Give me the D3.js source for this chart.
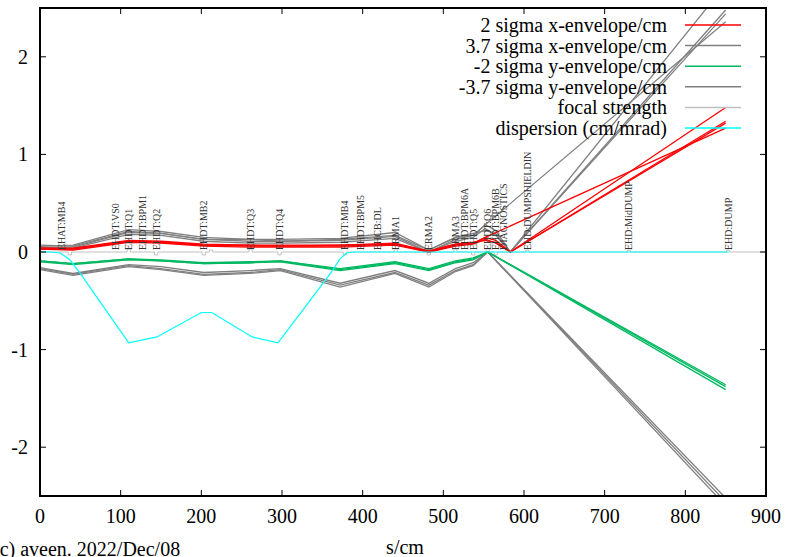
<!DOCTYPE html>
<html lang="en">
<head>
<meta charset="utf-8">
<title>envelope</title>
<style>
  body { margin: 0; background: #fff; }
  svg text { font-family: "Liberation Serif", "Times New Roman", serif; }
</style>
</head>
<body>
<div id="chart"></div>
<script src="https://cdn.jsdelivr.net/npm/d3@7"></script>
<script>
// --- data ---
var xTicks = [0, 100, 200, 300, 400, 500, 600, 700, 800, 900];
var yTicks = [-2, -1, 0, 1, 2];

// 2 sigma x-envelope (several runs)
var redTraces = [
  [[0,.03],[41,.03],[110,.11],[150,.10],[203,.07],[260,.06],[298,.06],[372,.06],[440,.08],[482,0],[515,.07],[537,.09],[552,.15],[565,.12],[583,0],[850,1.34]],
  [[0,.04],[41,.04],[110,.12],[150,.11],[203,.08],[260,.07],[298,.07],[372,.07],[440,.09],[482,.01],[515,.08],[537,.10],[552,.12],[565,.10],[583,0],[850,1.32]],
  [[0,.03],[41,.02],[110,.10],[150,.09],[203,.06],[260,.05],[298,.05],[372,.05],[440,.07],[482,0],[515,.06],[537,.08],[552,.13],[565,.09],[583,0],[850,1.48]],
  [[0,.04],[41,.03],[110,.11],[150,.10],[203,.07],[260,.07],[298,.06],[372,.07],[440,.08],[482,.01],[515,.08],[537,.09],[552,.15],[850,1.27]]
];
// 3.7 sigma x-envelope
var grayXTraces = [
  [[0,.05],[41,.05],[110,.20],[150,.19],[203,.13],[260,.11],[298,.11],[372,.12],[440,.16],[482,0],[515,.13],[537,.17],[552,.28],[565,.22],[583,0],[850,2.48]],
  [[0,.06],[41,.07],[110,.23],[150,.21],[203,.15],[260,.13],[298,.13],[372,.14],[440,.20],[482,.02],[515,.15],[537,.19],[552,.22],[565,.19],[583,0],[850,2.44]],
  [[0,.05],[41,.04],[110,.18],[150,.17],[203,.11],[260,.09],[298,.09],[372,.10],[440,.14],[482,0],[515,.11],[537,.15],[552,.24],[565,.17],[583,0],[850,2.74]],
  [[0,.07],[41,.06],[110,.21],[150,.19],[203,.13],[260,.13],[298,.11],[372,.13],[440,.17],[482,.02],[515,.15],[537,.17],[552,.28],[850,2.36]]
];
// -2 sigma y-envelope
var greenTraces = [
  [[0,-.09],[41,-.12],[110,-.07],[150,-.08],[203,-.11],[260,-.10],[298,-.09],[372,-.17],[440,-.10],[482,-.17],[515,-.09],[537,-.06],[555,0],[850,-1.36]],
  [[0,-.09],[41,-.12],[110,-.07],[150,-.09],[203,-.12],[260,-.11],[298,-.09],[372,-.18],[440,-.11],[482,-.18],[515,-.10],[537,-.07],[555,0],[850,-1.38]],
  [[0,-.10],[41,-.13],[110,-.08],[150,-.09],[203,-.12],[260,-.11],[298,-.10],[372,-.19],[440,-.12],[482,-.19],[515,-.11],[537,-.08],[555,0],[850,-1.41]]
];
// -3.7 sigma y-envelope
var grayYTraces = [
  [[0,-.16],[41,-.22],[110,-.13],[150,-.15],[203,-.21],[260,-.19],[298,-.17],[372,-.32],[440,-.19],[482,-.32],[515,-.17],[537,-.11],[555,0],[850,-2.52]],
  [[0,-.17],[41,-.23],[110,-.14],[150,-.17],[203,-.23],[260,-.21],[298,-.18],[372,-.34],[440,-.21],[482,-.34],[515,-.19],[537,-.13],[555,0],[850,-2.56]],
  [[0,-.18],[41,-.24],[110,-.15],[150,-.18],[203,-.24],[260,-.22],[298,-.19],[372,-.36],[440,-.22],[482,-.36],[515,-.20],[537,-.14],[555,0],[850,-2.60]]
];
// dispersion (cm/mrad)
var dispersion = [[0,0],[12,0],[25,-.01],[37,-.08],[50,-.22],[71,-.47],[110,-.93],[145,-.87],[200,-.62],[213,-.62],[263,-.87],[295,-.93],[330,-.55],[360,-.22],[372,-.07],[380,-.01],[390,0],[854,0]];
// focal strength kicks at elements
var focalS = [37, 110, 144, 203, 212, 261, 297, 378, 441, 482, 515, 537, 555, 565, 604, 730, 853];
var focalK = [-.03, .03, -.03, -.03, .02, .03, -.03, -.03, .03, -.03, .03, -.03, .03, -.03, .02, .02, .02];
// element names and positions
var elemNames = ["EHAT:MB4", "EHDT:VS0", "EHDT:Q1", "EHDT:BPM1", "EHDT:Q2", "EHDT:MB2", "EHDT:Q3", "EHDT:Q4", "EHDT:MB4", "EHDT:BPM5", "EHCB:DL", "ERMA1", "ERMA2", "ERMA3", "EHDT:BPM6A", "EHDT:Q5", "EHDT:Q6", "EHDT:BPM6B", "DIAGNOSTICS", "EHD:DUMPSHIELDIN", "EHD:MidDUMP", "EHD:DUMP"];
var elemS = [27, 94, 110, 127, 144, 203, 261, 297, 378, 397, 418, 441, 482, 515, 526, 537, 555, 565, 575, 604, 730, 853];

var legendNames = ["2 sigma x-envelope/cm", "3.7 sigma x-envelope/cm", "-2 sigma y-envelope/cm", "-3.7 sigma y-envelope/cm", "focal strength", "dispersion (cm/mrad)"];
var legendColors = ["#ff0000", "#808080", "#00b860", "#808080", "#c0c0c0", "#00ffff"];

// --- drawing ---
var width = 786, height = 557;
var m = {left: 40, right: 766, top: 8, bottom: 496};
var fs = 20;

var svg = d3.select("#chart").append("svg")
    .attr("width", width).attr("height", height);

var x = d3.scaleLinear().domain([0, 900]).range([m.left, m.right]);
var y = d3.scaleLinear().domain([-2.5, 2.5]).range([m.bottom, m.top]);

svg.append("clipPath").attr("id", "clip")
  .append("rect").attr("x", m.left).attr("y", m.top)
  .attr("width", m.right - m.left).attr("height", m.bottom - m.top);

var plot = svg.append("g").attr("clip-path", "url(#clip)");

var line = d3.line().x(function(d) { return x(d[0]); }).y(function(d) { return y(d[1]); });

// focal strength: baseline with small pulses
var focalPts = [[0, 0]];
focalS.forEach(function(s, i) {
  focalPts.push([s - 2, 0], [s - 2, focalK[i]], [s + 2, focalK[i]], [s + 2, 0]);
});
focalPts.push([900, 0]);
plot.append("path").attr("d", line(focalPts))
  .attr("fill", "none").attr("stroke", "#c0c0c0").attr("stroke-width", 1);

// element labels
svg.append("g").selectAll("text")
  .data(elemNames)
  .enter().append("text")
    .attr("transform", function(d, i) { return "translate(" + x(elemS[i]) + "," + (y(0) - 2) + ") rotate(-90)"; })
    .attr("dy", "0.35em")
    .attr("font-size", 10)
    .attr("fill", "#333")
    .text(function(d) { return d; });

function drawTraces(traces, color, w) {
  plot.append("g").selectAll("path")
    .data(traces)
    .enter().append("path")
      .attr("d", line)
      .attr("fill", "none")
      .attr("stroke", color)
      .attr("stroke-width", w);
}
drawTraces(grayXTraces, "#808080", 1.3);
drawTraces(grayYTraces, "#808080", 1.3);
drawTraces(greenTraces, "#00b860", 1.3);
drawTraces(redTraces, "#ff0000", 1.3);

plot.append("path").attr("d", line(dispersion))
  .attr("fill", "none").attr("stroke", "#00ffff").attr("stroke-width", 1.2);

// ticks (mirrored on all sides)
var tg = svg.append("g").attr("stroke", "#000").attr("stroke-width", 1);
xTicks.forEach(function(t) {
  tg.append("line").attr("x1", x(t)).attr("x2", x(t)).attr("y1", m.bottom).attr("y2", m.bottom - 6);
  tg.append("line").attr("x1", x(t)).attr("x2", x(t)).attr("y1", m.top).attr("y2", m.top + 6);
});
yTicks.forEach(function(t) {
  tg.append("line").attr("x1", m.left).attr("x2", m.left + 6).attr("y1", y(t)).attr("y2", y(t));
  tg.append("line").attr("x1", m.right).attr("x2", m.right - 6).attr("y1", y(t)).attr("y2", y(t));
});

svg.append("g").selectAll("text").data(xTicks).enter().append("text")
  .attr("x", function(d) { return x(d); }).attr("y", 516)
  .attr("dy", "0.35em").attr("text-anchor", "middle").attr("font-size", fs)
  .text(function(d) { return d; });

svg.append("g").selectAll("text").data(yTicks).enter().append("text")
  .attr("x", m.left - 12).attr("y", function(d) { return y(d); })
  .attr("dy", "0.35em").attr("text-anchor", "end").attr("font-size", fs)
  .text(function(d) { return d; });

// frame
svg.append("rect").attr("x", m.left).attr("y", m.top)
  .attr("width", m.right - m.left).attr("height", m.bottom - m.top)
  .attr("fill", "none").attr("stroke", "#000").attr("stroke-width", 2);

// axis title + stamp
svg.append("text").attr("x", 405).attr("y", 547).attr("dy", "0.35em")
  .attr("text-anchor", "middle").attr("font-size", fs).text("s/cm");
svg.append("text").attr("x", -7).attr("y", 549).attr("dy", "0.35em")
  .attr("font-size", fs).text("(c) aveen. 2022/Dec/08");

// legend
var lg = svg.append("g");
legendNames.forEach(function(name, i) {
  var ly = 25 + i * 20.6;
  lg.append("text").attr("x", 667).attr("y", ly).attr("dy", "0.35em")
    .attr("text-anchor", "end").attr("font-size", fs).text(name);
  lg.append("line").attr("x1", 685).attr("x2", 741).attr("y1", ly).attr("y2", ly)
    .attr("stroke", legendColors[i]).attr("stroke-width", 1.5);
});
</script>
</body>
</html>
